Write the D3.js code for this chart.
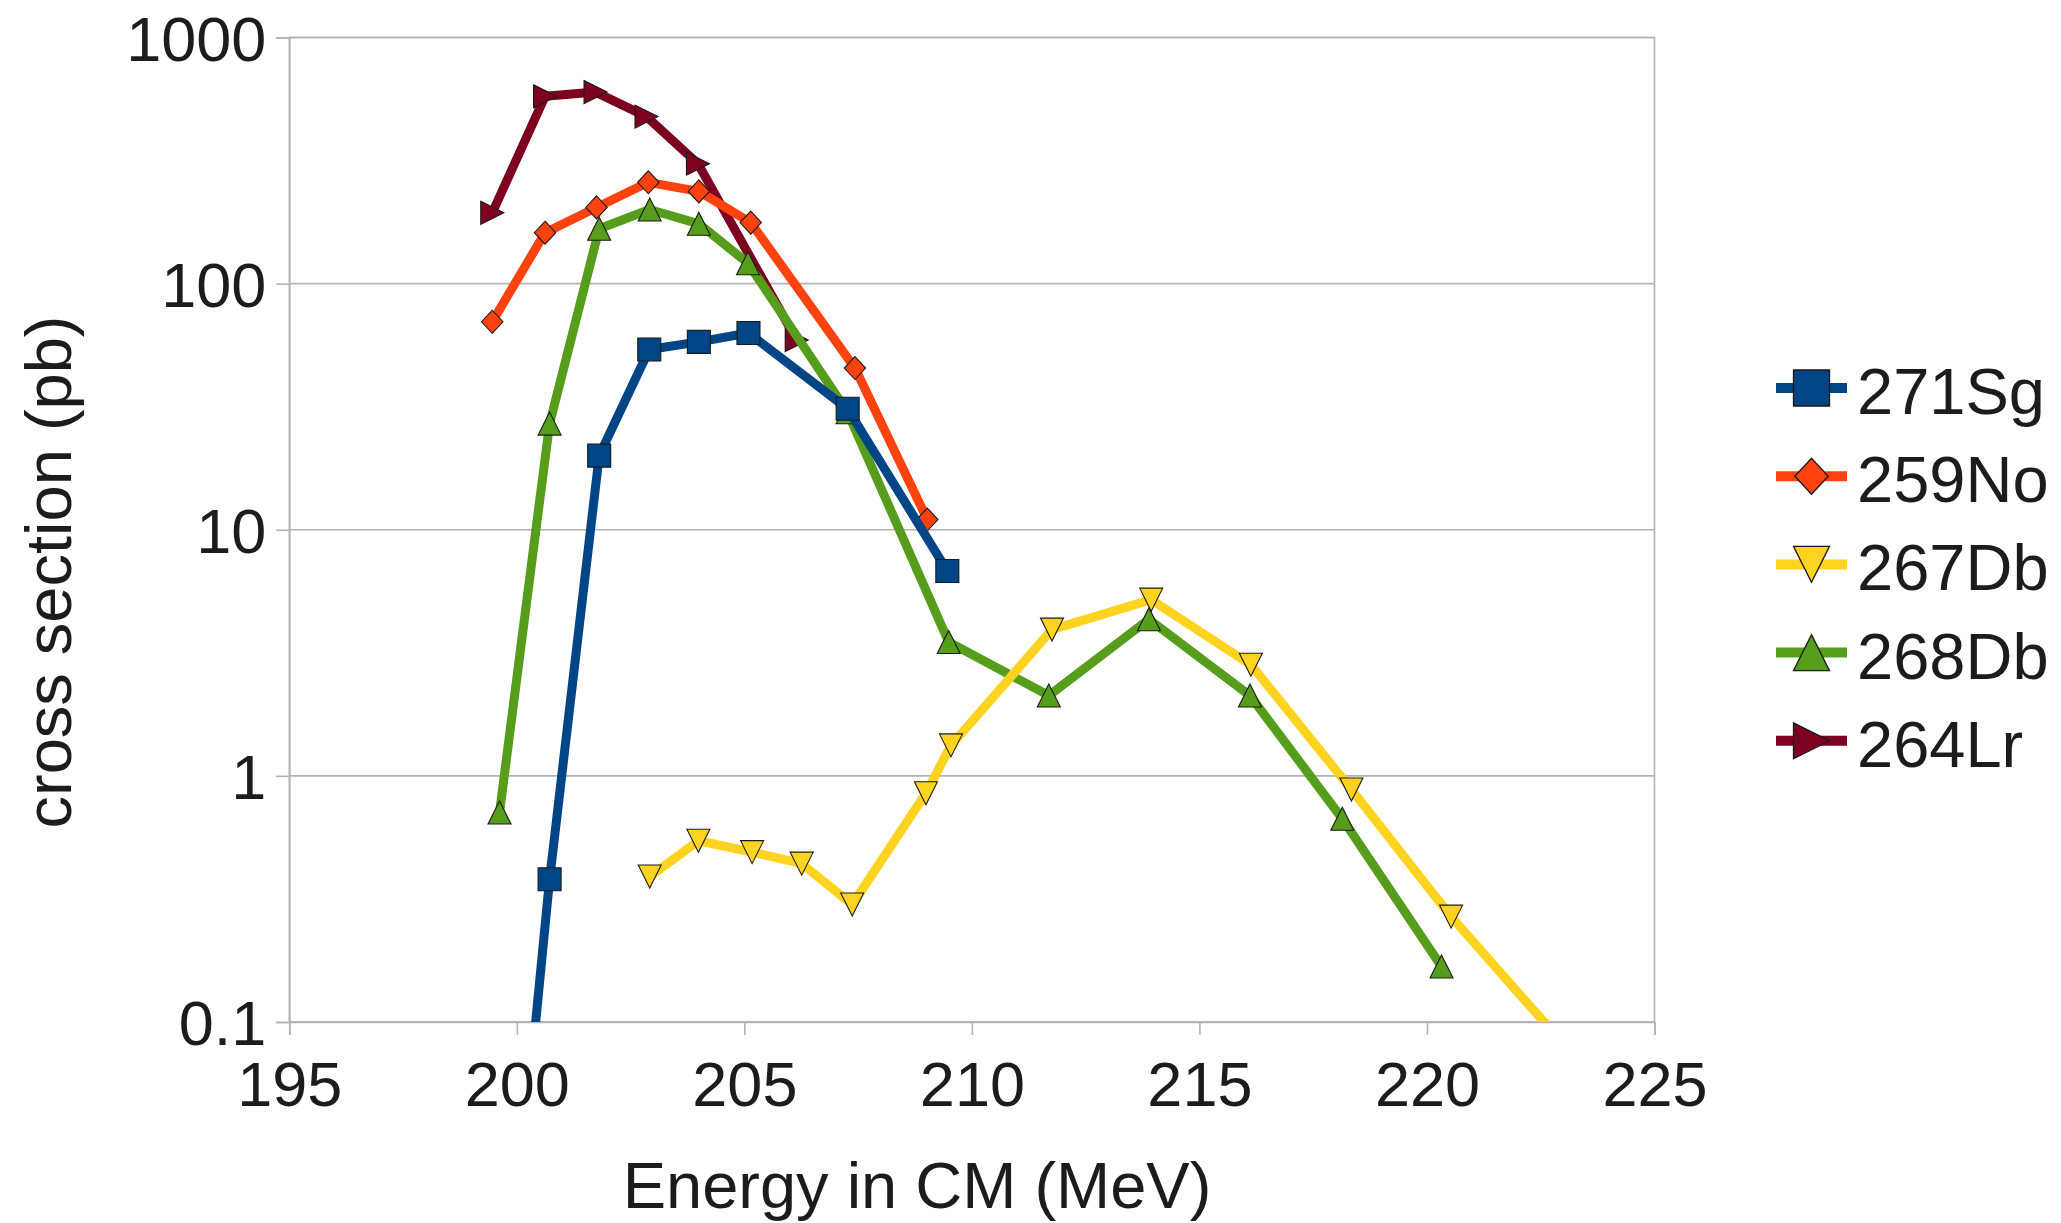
<!DOCTYPE html>
<html>
<head>
<meta charset="utf-8">
<script src="https://cdn.jsdelivr.net/npm/d3@7"></script>
<style>
  html, body { margin: 0; padding: 0; background: #ffffff; }
  svg { display: block; }
  text { font-family: "Liberation Sans", Arial, sans-serif; fill: #1c1c1c; }
</style>
</head>
<body>
<svg id="chart" width="2061" height="1223"></svg>
<script>
// Excitation functions: cross section (pb) versus centre-of-mass energy (MeV)
const energyTicks = [195, 200, 205, 210, 215, 220, 225];
const sectionTicks = [0.1, 1, 10, 100, 1000];
const sectionTickLabels = ["0.1", "1", "10", "100", "1000"];

const seriesNames = ["271Sg", "259No", "267Db", "268Db", "264Lr"];
const seriesColors = ["#004586", "#ff420e", "#ffd320", "#579d1c", "#7e0021"];
const seriesSymbols = ["square", "diamond", "triangleDown", "triangleUp", "triangleRight"];

const sg271 = [
  [199.55, 0.0023], [200.72, 0.38], [201.81, 20], [202.91, 54], [204.0, 58],
  [205.09, 63], [207.27, 31], [209.46, 6.8]
];
const no259 = [
  [199.46, 70], [200.62, 161], [201.75, 204], [202.89, 258], [204.0, 237],
  [205.14, 177], [207.43, 45.4], [209.02, 11]
];
const db267 = [
  [202.92, 0.39], [203.99, 0.545], [205.17, 0.49], [206.26, 0.44], [207.37, 0.30],
  [208.99, 0.85], [209.54, 1.33], [211.76, 3.93], [213.94, 5.2], [216.13, 2.83],
  [218.34, 0.88], [220.53, 0.268], [222.7, 0.094]
];
const db268 = [
  [199.62, 0.71], [200.72, 27], [201.81, 167], [202.92, 200], [204.0, 175],
  [205.08, 121], [207.27, 30], [209.49, 3.5], [211.69, 2.12], [213.89, 4.33],
  [216.11, 2.12], [218.14, 0.67], [220.32, 0.168]
];
const lr264 = [
  [199.46, 194], [200.62, 577], [201.73, 600], [202.85, 477], [203.98, 307],
  [206.15, 59]
];

const seriesData = [sg271, no259, db267, db268, lr264];

// ---- layout ----
const plot = { left: 289.3, right: 1654.5, top: 37.5, bottom: 1022 };
const svg = d3.select("#chart");

const x = d3.scaleLinear().domain([195, 225]).range([plot.left, plot.right]);
const y = d3.scaleLog().domain([0.1, 1000]).range([plot.bottom, plot.top]);

const gridColor = "#b3b3b3";

// marker path centred on (0,0) inside an s x s box
function markerPath(type, s) {
  const h = s / 2;
  switch (type) {
    case "square": return `M${-h},${-h}H${h}V${h}H${-h}Z`;
    case "diamond": return `M0,${-h}L${h * 0.93},0L0,${h}L${-h * 0.93},0Z`;
    case "triangleDown": return `M${-h},${-h}H${h}L0,${h}Z`;
    case "triangleUp": return `M0,${-h}L${h},${h}H${-h}Z`;
    case "triangleRight": return `M${-h},${-h}L${h},0L${-h},${h}Z`;
  }
}

// clip for the data lines
svg.append("defs").append("clipPath").attr("id", "plot-clip")
  .append("rect")
  .attr("x", plot.left).attr("y", plot.top)
  .attr("width", plot.right - plot.left).attr("height", plot.bottom - plot.top);

// horizontal grid
svg.append("g").selectAll("line").data(sectionTicks).join("line")
  .attr("x1", plot.left).attr("x2", plot.right)
  .attr("y1", d => y(d)).attr("y2", d => y(d))
  .attr("stroke", gridColor).attr("stroke-width", 1.6);

// plot frame
svg.append("rect")
  .attr("x", plot.left).attr("y", plot.top)
  .attr("width", plot.right - plot.left).attr("height", plot.bottom - plot.top)
  .attr("fill", "none").attr("stroke", gridColor).attr("stroke-width", 1.6);

// y axis
const yAxis = svg.append("g")
  .attr("transform", `translate(${plot.left},0)`)
  .call(d3.axisLeft(y).tickValues(sectionTicks)
    .tickFormat((d, i) => sectionTickLabels[i]).tickSize(13).tickPadding(10));
yAxis.select(".domain").attr("stroke", gridColor).attr("stroke-width", 1.6);
yAxis.selectAll(".tick line").attr("stroke", gridColor).attr("stroke-width", 1.6);
yAxis.selectAll(".tick text")
  .attr("x", -23).attr("dy", "0.36em")
  .style("font-size", "63px").style("font-family", "'Liberation Sans', Arial, sans-serif")
  .attr("fill", "#1c1c1c");

// x axis
const xAxis = svg.append("g")
  .attr("transform", `translate(0,${plot.bottom})`)
  .call(d3.axisBottom(x).tickValues(energyTicks).tickFormat(d3.format("d")).tickSize(13));
xAxis.select(".domain").attr("stroke", gridColor).attr("stroke-width", 1.6);
xAxis.selectAll(".tick line").attr("stroke", gridColor).attr("stroke-width", 1.6);
xAxis.selectAll(".tick text")
  .attr("y", 84).attr("dy", 0)
  .style("font-size", "63px").style("font-family", "'Liberation Sans', Arial, sans-serif")
  .attr("fill", "#1c1c1c");

// axis titles
svg.append("text")
  .attr("x", 917).attr("y", 1208)
  .attr("text-anchor", "middle")
  .style("font-size", "65px")
  .text("Energy in CM (MeV)");

svg.append("text")
  .attr("transform", "translate(71,572) rotate(-90)")
  .attr("text-anchor", "middle")
  .style("font-size", "65px")
  .text("cross section (pb)");

// series: drawn last-to-first so the first series sits on top
const line = d3.line().x(d => x(d[0])).y(d => y(d[1]));
const order = d3.range(seriesData.length).reverse();

const seriesG = svg.append("g");
order.forEach(i => {
  const g = seriesG.append("g");
  g.append("path")
    .datum(seriesData[i])
    .attr("clip-path", "url(#plot-clip)")
    .attr("d", line)
    .attr("fill", "none")
    .attr("stroke", seriesColors[i])
    .attr("stroke-width", 9)
    .attr("stroke-linejoin", "round");
  g.selectAll("path.marker")
    .data(seriesData[i].filter(d => d[1] >= 0.1 && d[1] <= 1000))
    .join("path")
    .attr("class", "marker")
    .attr("transform", d => `translate(${x(d[0])},${y(d[1])})`)
    .attr("d", markerPath(seriesSymbols[i], 23))
    .attr("fill", seriesColors[i])
    .attr("stroke", "#1a1a1a")
    .attr("stroke-width", 1.1);
});

// legend
const legend = svg.append("g");
const legendRow = i => 388 + i * 88.2;
seriesNames.forEach((name, i) => {
  const cy = legendRow(i);
  legend.append("line")
    .attr("x1", 1776).attr("x2", 1847)
    .attr("y1", cy).attr("y2", cy)
    .attr("stroke", seriesColors[i]).attr("stroke-width", 10);
  legend.append("path")
    .attr("transform", `translate(1811.5,${cy})`)
    .attr("d", markerPath(seriesSymbols[i], 36))
    .attr("fill", seriesColors[i])
    .attr("stroke", "#1a1a1a").attr("stroke-width", 1.3);
  legend.append("text")
    .attr("x", 1857).attr("y", cy + 26)
    .style("font-size", "65px")
    .text(name);
});
</script>
</body>
</html>
